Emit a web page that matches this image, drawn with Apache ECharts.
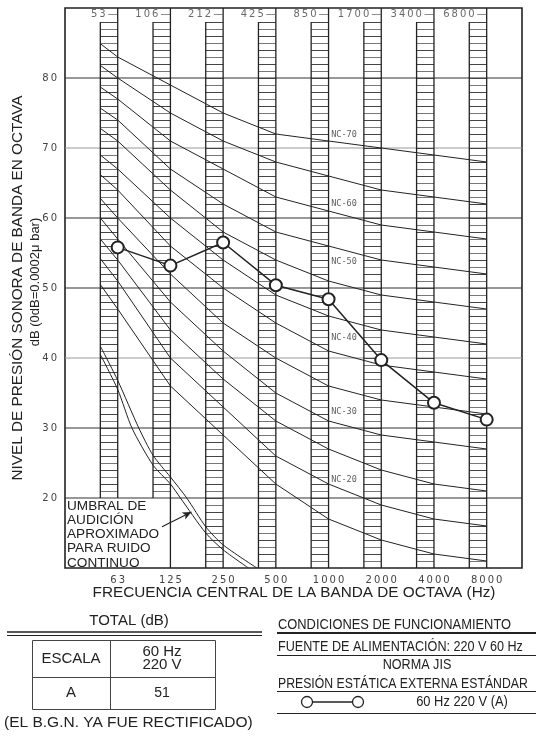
<!DOCTYPE html>
<html>
<head>
<meta charset="utf-8">
<script src="https://cdn.jsdelivr.net/npm/echarts@6/dist/echarts.min.js"></script>
<style>
  html, body { margin: 0; padding: 0; background: #fff; }
  #chart { width: 536px; height: 740px; }
</style>
</head>
<body>
<div id="chart"></div>
<script>
// octave bands, x = 1..8 is the right edge of each hatched column
const bandX = [1, 2, 3, 4, 5, 6, 7, 8];
const bandLabels = ['63', '125', '250', '500', '1000', '2000', '4000', '8000'];
const edgeLabels = ['53', '106', '212', '425', '850', '1700', '3400', '6800'];
const colBottom = [20, 20, 10, 10, 10, 10, 10, 10];
const edgeBottom = [20, 10, 10, 10, 10, 10, 10, 10];
const colTop = 88;
const gridLevels = [20, 30, 40, 50, 60, 70, 80];

// measured unit (60 Hz 220 V, A)
const measured = [55.8, 53.2, 56.5, 50.4, 48.4, 39.7, 33.6, 31.2];

// NC curves, values at the 8 bands
const nc70 = [83, 79, 75, 72, 71, 70, 69, 68];
const nc65 = [80, 75, 71, 68, 66, 64, 63, 62];
const nc60 = [77, 71, 67, 63, 61, 59, 58, 57];
const nc55 = [74, 67, 62, 58, 56, 54, 53, 52];
const nc50 = [71, 64, 58, 54, 51, 49, 48, 47];
const nc45 = [67, 60, 54, 49, 46, 44, 43, 42];
const nc40 = [64, 56, 50, 45, 41, 39, 38, 37];
const nc35 = [60, 52, 45, 40, 36, 34, 33, 32];
const nc30 = [57, 48, 41, 35, 31, 29, 28, 27];
const nc25 = [54, 44, 37, 31, 27, 24, 22, 21];
const nc20 = [51, 40, 33, 26, 22, 19, 17, 16];
const nc15 = [47, 36, 29, 22, 17, 14, 12, 11];
// where each curve starts, on the left edge of the first column
const ncStart = [84.9, 81.8, 78.7, 75.7, 72.8, 69.0, 66.2, 62.8, 60.0, 57.0, 54.2, 50.5];
const ncStartX = 0.67;

const ncLabels = ['NC-70', 'NC-60', 'NC-50', 'NC-40', 'NC-30', 'NC-20'];
const ncLabelDb = [71.9, 62.0, 53.7, 42.9, 32.3, 22.6];
const ncLabelX = 5.05;

// approximate threshold of hearing (double line), [x, dB]
const thrUpper = [[0.67, 41.7], [1, 36.8], [1.4, 30], [1.67, 26.1], [2, 23.0], [2.31, 20], [2.67, 15.9], [3, 13.3], [3.64, 10]];
const thrLower = [[0.67, 40.5], [1, 35.5], [1.27, 30], [1.67, 24.7], [2, 22.0], [2.19, 20], [2.67, 15.0], [3, 12.6], [3.48, 10]];
const arrowFrom = [1.84, 15.9];
const arrowTo = [2.4, 18.0];

const colW = 0.33;
const spaced = (s) => s.split('').join('\u2009');
const cadFont = { fontFamily: 'DejaVu Sans', fontSize: 10, color: '#444' };
const ink = '#222';

const chart = echarts.init(document.getElementById('chart'));

const ncAll = [nc70, nc65, nc60, nc55, nc50, nc45, nc40, nc35, nc30, nc25, nc20, nc15];
const ncSeries = ncAll.map((vals, k) => ({
  type: 'line',
  data: [[ncStartX, ncStart[k]]].concat(vals.map((v, i) => [bandX[i], v])),
  symbol: 'none',
  silent: true,
  lineStyle: { color: ink, width: 1 },
  z: 3
}));

const option = {
  animation: false,
  grid: { left: 65, right: 14, top: 8, bottom: 172, show: true, borderColor: ink, borderWidth: 1.6 },
  xAxis: {
    type: 'value', min: 0, max: 8.67, interval: 1,
    axisLine: { show: false }, axisTick: { show: false }, splitLine: { show: false },
    axisLabel: {
      margin: 7, showMaxLabel: false, ...cadFont,
      formatter: (v) => (v >= 1 && v <= 8 ? spaced(bandLabels[v - 1]) : '')
    }
  },
  yAxis: {
    type: 'value', min: 10, max: 90, interval: 10,
    axisLine: { show: false }, axisTick: { show: false }, splitLine: { show: false },
    axisLabel: {
      margin: 8, ...cadFont,
      formatter: (v) => (v > 10 && v < 90 ? spaced(String(v)) : '')
    }
  },
  series: [
    {
      // horizontal grid lines
      type: 'custom', silent: true, z: 1,
      data: gridLevels.map((d) => [0, d]),
      renderItem: (params, api) => {
        const d = api.value(1);
        const a = api.coord([0, d]);
        const b = api.coord([8.67, d]);
        const faded = d === 40 || d === 70;
        return { type: 'line', shape: { x1: a[0], y1: a[1], x2: b[0], y2: b[1] },
          style: { stroke: faded ? '#9a9a9a' : '#333', lineWidth: 1.2 } };
      }
    },
    {
      // hatched band columns
      type: 'custom', silent: true, z: 2,
      data: bandX.map((x, i) => [x, colBottom[i], edgeBottom[i]]),
      renderItem: (params, api) => {
        const x = api.value(0), bot = api.value(1), edgeBot = api.value(2);
        const tl = api.coord([x - colW, colTop]);
        const br = api.coord([x, bot]);
        const eTop = api.coord([x, 90]);
        const eBot = api.coord([x, edgeBot]);
        const children = [];
        for (let d = bot + 1; d <= colTop; d++) {
          const y = api.coord([x, d])[1] + 0.5;
          children.push({ type: 'line', shape: { x1: tl[0], y1: y, x2: br[0], y2: y },
            style: { stroke: d % 2 ? '#777' : '#444', lineWidth: 1 } });
        }
        children.push({ type: 'line', shape: { x1: tl[0], y1: tl[1], x2: tl[0], y2: br[1] },
          style: { stroke: ink, lineWidth: 1.3 } });
        children.push({ type: 'line', shape: { x1: eTop[0], y1: eTop[1], x2: eBot[0], y2: eBot[1] },
          style: { stroke: ink, lineWidth: 1.3 } });
        return { type: 'group', children };
      }
    },
    {
      // band edge labels at the top
      type: 'scatter', silent: true, symbolSize: 0, z: 5,
      data: bandX.map((x) => [x, 89.1]),
      label: {
        show: true, position: 'left', distance: 0, ...cadFont,
        formatter: (p) => spaced(edgeLabels[p.dataIndex]) + '\u2009\u2014'
      }
    },
    ...ncSeries,
    {
      type: 'scatter', silent: true, symbolSize: 0, z: 5,
      data: ncLabelDb.map((d) => [ncLabelX, d]),
      label: {
        show: true, position: 'right', distance: 0,
        fontFamily: 'DejaVu Sans Mono', fontSize: 8.5, color: '#333',
        formatter: (p) => ncLabels[p.dataIndex]
      }
    },
    {
      type: 'line', data: thrUpper, symbol: 'none', smooth: 0.25, silent: true, z: 3,
      lineStyle: { color: ink, width: 1 },
      markLine: {
        silent: true, symbol: ['none', 'arrow'], symbolSize: [6, 9],
        label: { show: false },
        lineStyle: { color: ink, width: 1.2, type: 'solid' },
        data: [[{ coord: arrowFrom }, { coord: arrowTo }]]
      }
    },
    {
      type: 'line', data: thrLower, symbol: 'none', smooth: 0.25, silent: true, z: 3,
      lineStyle: { color: ink, width: 1 }
    },
    {
      type: 'line', z: 10,
      data: measured.map((v, i) => [bandX[i], v]),
      symbol: 'emptyCircle', symbolSize: 12,
      lineStyle: { color: ink, width: 1.5 },
      itemStyle: { color: ink, borderColor: ink, borderWidth: 1.5 }
    }
  ],
  graphic: [
    // axis titles
    { type: 'text', x: 18, y: 288, rotation: Math.PI / 2,
      style: { text: 'NIVEL DE PRESIÓN SONORA DE BANDA EN OCTAVA', font: '15.3px "Liberation Sans"', fill: ink, align: 'center', verticalAlign: 'middle' } },
    { type: 'text', x: 35, y: 282, rotation: Math.PI / 2,
      style: { text: 'dB (0dB=0.0002\u03bc bar)', font: '13px "Liberation Sans"', fill: ink, align: 'center', verticalAlign: 'middle' } },
    { type: 'text', x: 294, y: 593,
      style: { text: 'FRECUENCIA CENTRAL DE LA BANDA DE OCTAVA (Hz)', font: '15.3px "Liberation Sans"', fill: ink, align: 'center', verticalAlign: 'middle' } },
    // threshold note
    { type: 'text', x: 67, y: 499,
      style: { text: 'UMBRAL DE\nAUDICIÓN\nAPROXIMADO\nPARA RUIDO\nCONTINUO', font: '13.6px "Liberation Sans"', lineHeight: 14.2, fill: ink, align: 'left', verticalAlign: 'top' } },

    // TOTAL (dB) table
    { type: 'text', x: 129, y: 621,
      style: { text: 'TOTAL (dB)', font: '15px "Liberation Sans"', fill: ink, align: 'center', verticalAlign: 'middle' } },
    { type: 'line', shape: { x1: 7, y1: 632, x2: 262, y2: 632 }, style: { stroke: ink, lineWidth: 1.5 } },
    { type: 'line', shape: { x1: 7, y1: 635.5, x2: 262, y2: 635.5 }, style: { stroke: ink, lineWidth: 1.2 } },
    { type: 'rect', shape: { x: 32.5, y: 640.5, width: 183, height: 69 }, style: { stroke: '#444', fill: 'none', lineWidth: 1 } },
    { type: 'line', shape: { x1: 110.5, y1: 640.5, x2: 110.5, y2: 709.5 }, style: { stroke: '#444', lineWidth: 1 } },
    { type: 'line', shape: { x1: 32.5, y1: 677.5, x2: 215.5, y2: 677.5 }, style: { stroke: '#444', lineWidth: 1 } },
    { type: 'text', x: 71, y: 659,
      style: { text: 'ESCALA', font: '15px "Liberation Sans"', fill: ink, align: 'center', verticalAlign: 'middle' } },
    { type: 'text', x: 162, y: 658,
      style: { text: '60 Hz\n220 V', font: '15px "Liberation Sans"', lineHeight: 13, fill: ink, align: 'center', verticalAlign: 'middle' } },
    { type: 'text', x: 71, y: 693,
      style: { text: 'A', font: '15px "Liberation Sans"', fill: ink, align: 'center', verticalAlign: 'middle' } },
    { type: 'text', x: 162, y: 693,
      style: { text: '51', font: '14px "Liberation Sans"', fill: ink, align: 'center', verticalAlign: 'middle' } },
    { type: 'text', x: 4, y: 723,
      style: { text: '(EL B.G.N. YA FUE RECTIFICADO)', font: '15.5px "Liberation Sans"', fill: ink, align: 'left', verticalAlign: 'middle' } },

    // operating conditions
    { type: 'text', x: 278, y: 625, scaleX: 0.92,
      style: { text: 'CONDICIONES DE FUNCIONAMIENTO', font: '14px "Liberation Sans"', fill: ink, align: 'left', verticalAlign: 'middle' } },
    { type: 'line', shape: { x1: 277, y1: 633, x2: 536, y2: 633 }, style: { stroke: ink, lineWidth: 2 } },
    { type: 'text', x: 278, y: 647, scaleX: 0.9,
      style: { text: 'FUENTE DE ALIMENTACIÓN: 220 V 60 Hz', font: '14px "Liberation Sans"', fill: ink, align: 'left', verticalAlign: 'middle' } },
    { type: 'line', shape: { x1: 277, y1: 655.5, x2: 536, y2: 655.5 }, style: { stroke: ink, lineWidth: 1.2 } },
    { type: 'text', x: 417, y: 665, scaleX: 0.9,
      style: { text: 'NORMA JIS', font: '14px "Liberation Sans"', fill: ink, align: 'center', verticalAlign: 'middle' } },
    { type: 'text', x: 278, y: 684, scaleX: 0.875,
      style: { text: 'PRESIÓN ESTÁTICA EXTERNA ESTÁNDAR', font: '14px "Liberation Sans"', fill: ink, align: 'left', verticalAlign: 'middle' } },
    { type: 'line', shape: { x1: 277, y1: 691.5, x2: 536, y2: 691.5 }, style: { stroke: ink, lineWidth: 1.2 } },
    { type: 'line', shape: { x1: 312.5, y1: 702, x2: 352.5, y2: 702 }, style: { stroke: ink, lineWidth: 1.5 } },
    { type: 'circle', shape: { cx: 307, cy: 702, r: 5.5 }, style: { stroke: ink, fill: '#fff', lineWidth: 1.3 } },
    { type: 'circle', shape: { cx: 358, cy: 702, r: 5.5 }, style: { stroke: ink, fill: '#fff', lineWidth: 1.3 } },
    { type: 'text', x: 462, y: 702, scaleX: 0.92,
      style: { text: '60 Hz 220 V (A)', font: '14px "Liberation Sans"', fill: ink, align: 'center', verticalAlign: 'middle' } },
    { type: 'line', shape: { x1: 277, y1: 713.5, x2: 536, y2: 713.5 }, style: { stroke: ink, lineWidth: 1.2 } }
  ]
};

chart.setOption(option);
</script>
</body>
</html>
